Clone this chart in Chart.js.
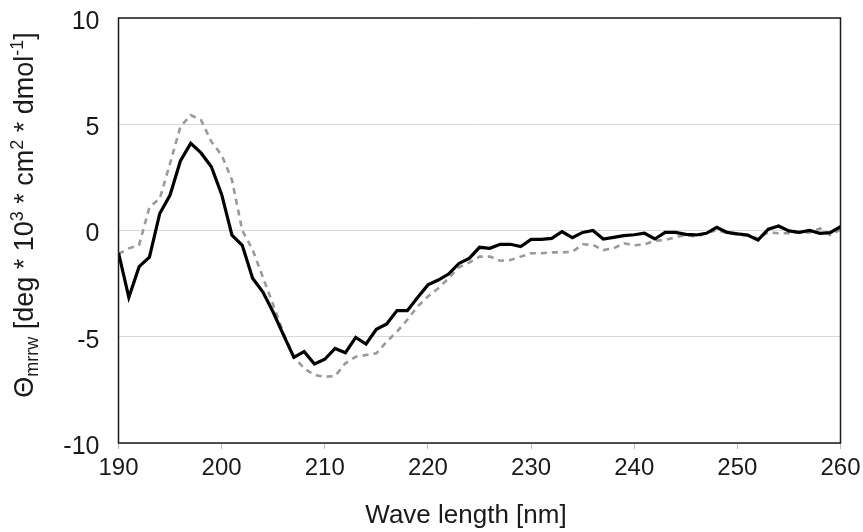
<!DOCTYPE html>
<html>
<head>
<meta charset="utf-8">
<script src="https://cdn.jsdelivr.net/npm/chart.js@4.4.0/dist/chart.umd.min.js"></script>
<style>
  html, body { margin: 0; padding: 0; background: #fff; }
  #wrap { width: 863px; height: 532px; }
</style>
</head>
<body>
<div id="wrap"><canvas id="cdChart" width="863" height="532"></canvas></div>
<script>
// wavelengths (nm)
const wavelengths = [
  190, 191, 192, 193, 194, 195, 196, 197, 198, 199,
  200, 201, 202, 203, 204, 205, 206, 207, 208, 209,
  210, 211, 212, 213, 214, 215, 216, 217, 218, 219,
  220, 221, 222, 223, 224, 225, 226, 227, 228, 229,
  230, 231, 232, 233, 234, 235, 236, 237, 238, 239,
  240, 241, 242, 243, 244, 245, 246, 247, 248, 249,
  250, 251, 252, 253, 254, 255, 256, 257, 258, 259,
  260
];

// solid black spectrum
const solidSeries = [
  -1.05, -3.15, -1.70, -1.25, 0.80, 1.67, 3.27, 4.10, 3.65, 3.00,
  1.70, -0.22, -0.70, -2.25, -2.90, -3.85, -4.92, -5.97, -5.70, -6.28,
  -6.06, -5.55, -5.75, -5.03, -5.34, -4.65, -4.40, -3.77, -3.77, -3.15,
  -2.56, -2.33, -2.05, -1.55, -1.31, -0.79, -0.84, -0.65, -0.65, -0.76,
  -0.42, -0.42, -0.37, -0.05, -0.34, -0.09, 0.00, -0.40, -0.32, -0.24,
  -0.20, -0.13, -0.40, -0.09, -0.09, -0.18, -0.21, -0.13, 0.15, -0.09,
  -0.16, -0.21, -0.45, 0.06, 0.21, -0.02, -0.09, 0.00, -0.13, -0.10,
  0.18
];

// dashed grey spectrum
const dashedSeries = [
  -1.10, -0.84, -0.68, 1.10, 1.50, 3.16, 4.88, 5.43, 5.20, 4.18,
  3.55, 2.38, 0.00, -0.90, -2.20, -3.50, -4.84, -5.94, -6.49, -6.80,
  -6.88, -6.85, -6.25, -5.94, -5.86, -5.78, -5.23, -4.76, -4.20, -3.58,
  -3.10, -2.72, -2.25, -1.73, -1.51, -1.23, -1.23, -1.42, -1.39, -1.23,
  -1.07, -1.07, -1.03, -1.03, -1.00, -0.65, -0.68, -0.92, -0.84, -0.60,
  -0.70, -0.65, -0.48, -0.45, -0.32, -0.21, -0.29, -0.13, 0.02, -0.13,
  -0.18, -0.26, -0.37, -0.09, -0.13, -0.13, -0.09, -0.09, 0.10, -0.21,
  0.05
];

const xTicks = [190, 200, 210, 220, 230, 240, 250, 260];
const yTicks = [-10, -5, 0, 5, 10];
const xTitle = 'Wave length [nm]';

const FONT = '"Liberation Sans", Arial, sans-serif';

// y-axis title with sub/superscripts, drawn as rotated text runs
const yTitleRuns = [
  { t: 'Θ', k: 'n' },
  { t: 'mrrw', k: 'sub' },
  { t: ' [deg * 10', k: 'n' },
  { t: '3', k: 'sup' },
  { t: ' * cm', k: 'n' },
  { t: '2', k: 'sup' },
  { t: ' * dmol', k: 'n' },
  { t: '-1', k: 'sup' },
  { t: ']', k: 'n' }
];

const frameAndTitle = {
  id: 'frameAndTitle',
  afterDraw(chart) {
    const { ctx, chartArea: a } = chart;
    ctx.save();
    ctx.strokeStyle = '#1a1a1a';
    ctx.lineWidth = 1.5;
    ctx.strokeRect(a.left, a.top, a.right - a.left, a.bottom - a.top);

    // x title
    ctx.fillStyle = '#1a1a1a';
    ctx.font = '26px ' + FONT;
    ctx.textAlign = 'center';
    ctx.textBaseline = 'middle';
    ctx.fillText(xTitle, 466, 516);

    // y title
    const big = 27, small = 18;
    let total = 0;
    yTitleRuns.forEach(r => {
      ctx.font = (r.k === 'n' ? big : small) + 'px ' + FONT;
      r.w = ctx.measureText(r.t).width;
      total += r.w;
    });
    ctx.translate(33, 215);
    ctx.rotate(-Math.PI / 2);
    ctx.textAlign = 'left';
    ctx.textBaseline = 'alphabetic';
    let x = -total / 2;
    yTitleRuns.forEach(r => {
      ctx.font = (r.k === 'n' ? big : small) + 'px ' + FONT;
      const dy = r.k === 'sub' ? 5 : r.k === 'sup' ? -10 : 0;
      ctx.fillText(r.t, x, dy);
      x += r.w;
    });
    ctx.restore();
  }
};

const ctx = document.getElementById('cdChart').getContext('2d');
const cdChart = new Chart(ctx, {
  type: 'line',
  data: {
    datasets: [
      {
        label: 'solid',
        data: wavelengths.map((w, i) => ({ x: w, y: solidSeries[i] })),
        borderColor: '#000000',
        borderWidth: 3.2,
        pointRadius: 0,
        tension: 0
      },
      {
        label: 'dashed',
        data: wavelengths.map((w, i) => ({ x: w, y: dashedSeries[i] })),
        borderColor: '#9a9a9a',
        borderWidth: 2.6,
        borderDash: [6, 5],
        pointRadius: 0,
        tension: 0
      }
    ]
  },
  options: {
    responsive: false,
    animation: false,
    layout: { padding: { top: 18, right: 22.5, bottom: 0, left: 0 } },
    plugins: { legend: { display: false }, tooltip: { enabled: false } },
    scales: {
      x: {
        type: 'linear',
        min: 190,
        max: 260,
        afterBuildTicks: s => { s.ticks = xTicks.map(v => ({ value: v })); },
        afterFit: s => { s.height = 89; s.paddingLeft = 0; s.paddingRight = 0; },
        grid: { drawOnChartArea: false, color: '#bdbdbd', tickLength: 6 },
        border: { display: false },
        ticks: { color: '#1a1a1a', font: { family: FONT, size: 24 }, padding: 5, maxRotation: 0 }
      },
      y: {
        min: -10,
        max: 10,
        afterBuildTicks: s => { s.ticks = yTicks.map(v => ({ value: v })); },
        afterFit: s => { s.width = 118.5; s.paddingTop = 0; s.paddingBottom = 0; },
        grid: { color: '#d9d9d9', lineWidth: 1, drawTicks: false },
        border: { display: false },
        ticks: { color: '#1a1a1a', font: { family: FONT, size: 25 }, padding: 19, labelOffset: 4 }
      }
    }
  },
  plugins: [frameAndTitle]
});
</script>
</body>
</html>
